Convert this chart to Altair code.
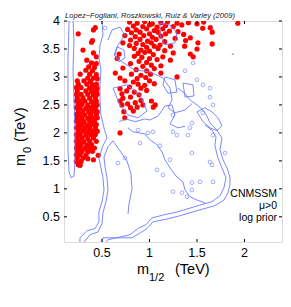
import altair as alt
import pandas as pd

# ---------------- data (TeV) ----------------
x_ticks = [0.5, 1.0, 1.5, 2.0]
y_ticks = [0.5, 1.0, 1.5, 2.0, 2.5, 3.0, 3.5, 4.0]

left_cluster = [
    (0.25, 3.77), (0.41, 3.84), (0.43, 3.88), (0.39, 3.62), (0.40, 3.65), (0.30, 3.48),
    (0.41, 3.43), (0.44, 3.36), (0.34, 3.30), (0.39, 3.25), (0.44, 3.24), (0.36, 3.18),
    (0.42, 3.17), (0.33, 3.12), (0.40, 3.11), (0.27, 3.05), (0.37, 3.05), (0.44, 3.04),
    (0.35, 2.98), (0.41, 2.98), (0.45, 2.97), (0.24, 2.93), (0.31, 2.93), (0.38, 2.92),
    (0.25, 2.87), (0.34, 2.87), (0.40, 2.86), (0.44, 2.87), (0.23, 2.81), (0.28, 2.81),
    (0.37, 2.80), (0.42, 2.81), (0.45, 2.80), (0.24, 2.75), (0.33, 2.75), (0.39, 2.74),
    (0.44, 2.75), (0.23, 2.69), (0.28, 2.69), (0.35, 2.69), (0.41, 2.68), (0.45, 2.69),
    (0.24, 2.63), (0.30, 2.63), (0.37, 2.62), (0.43, 2.63), (0.23, 2.57), (0.27, 2.57),
    (0.32, 2.57), (0.39, 2.56), (0.44, 2.57), (0.25, 2.51), (0.29, 2.51), (0.35, 2.50),
    (0.41, 2.51), (0.45, 2.50), (0.23, 2.45), (0.27, 2.45), (0.33, 2.44), (0.38, 2.45),
    (0.43, 2.45), (0.25, 2.39), (0.30, 2.39), (0.36, 2.38), (0.41, 2.39), (0.45, 2.38),
    (0.23, 2.33), (0.27, 2.33), (0.32, 2.32), (0.38, 2.33), (0.44, 2.33), (0.24, 2.27),
    (0.29, 2.27), (0.35, 2.26), (0.40, 2.27), (0.45, 2.27), (0.23, 2.21), (0.26, 2.21),
    (0.31, 2.20), (0.37, 2.21), (0.42, 2.21), (0.25, 2.15), (0.29, 2.15), (0.34, 2.14),
    (0.39, 2.15), (0.44, 2.15), (0.23, 2.09), (0.27, 2.09), (0.32, 2.08), (0.37, 2.09),
    (0.43, 2.09), (0.25, 2.03), (0.30, 2.03), (0.35, 2.02), (0.40, 2.03), (0.45, 2.03),
    (0.23, 1.97), (0.27, 1.97), (0.33, 1.96), (0.38, 1.97), (0.43, 1.97), (0.24, 1.91),
    (0.29, 1.91), (0.35, 1.90), (0.41, 1.91), (0.23, 1.85), (0.26, 1.85), (0.31, 1.84),
    (0.37, 1.85), (0.44, 1.85), (0.24, 1.79), (0.28, 1.79), (0.34, 1.78), (0.39, 1.79),
    (0.23, 1.73), (0.27, 1.73), (0.32, 1.72), (0.37, 1.73), (0.42, 1.73), (0.24, 1.67),
    (0.29, 1.67), (0.35, 1.66), (0.40, 1.67), (0.46, 1.60), (0.23, 1.61), (0.27, 1.61),
    (0.33, 1.60), (0.24, 1.55), (0.30, 1.55), (0.35, 1.54), (0.41, 1.52), (0.23, 1.49),
    (0.28, 1.49), (0.25, 1.43), (0.27, 1.42), (0.69, 2.00),
]

upper_cluster = [
    (0.79, 3.98), (0.87, 3.96), (0.95, 3.99), (1.03, 3.95), (1.12, 3.97), (1.19, 3.99),
    (1.29, 3.96), (1.41, 3.97), (1.50, 3.95), (1.57, 3.98), (1.93, 3.96),
    (0.83, 3.91), (0.93, 3.90), (1.00, 3.93), (1.08, 3.89), (1.17, 3.92), (1.25, 3.90),
    (1.34, 3.93), (0.77, 3.85), (0.86, 3.84), (0.97, 3.86), (1.05, 3.83), (1.14, 3.86),
    (1.21, 3.82), (1.56, 3.87), (1.64, 3.88), (0.81, 3.79), (0.90, 3.80), (1.00, 3.77),
    (1.09, 3.80), (1.17, 3.77), (1.30, 3.81), (0.74, 3.74), (0.85, 3.72), (0.94, 3.74),
    (1.03, 3.71), (1.12, 3.73), (1.36, 3.76), (1.66, 3.80), (0.80, 3.66), (0.90, 3.67),
    (0.98, 3.64), (1.07, 3.67), (1.16, 3.63), (1.27, 3.69), (1.43, 3.70), (0.86, 3.60),
    (0.93, 3.58), (1.02, 3.61), (1.11, 3.57), (1.38, 3.65), (0.72, 3.61), (0.79, 3.56),
    (0.97, 3.53), (1.05, 3.55), (1.51, 3.61), (1.66, 3.59), (0.84, 3.51), (0.91, 3.48),
    (1.00, 3.46), (1.09, 3.51), (1.22, 3.55), (1.37, 3.55), (0.88, 3.42), (0.95, 3.44),
    (1.04, 3.40), (1.16, 3.47), (1.50, 3.50), (0.68, 3.41), (0.84, 3.37), (0.92, 3.35),
    (1.00, 3.33), (1.25, 3.43), (1.43, 3.41), (1.46, 3.36), (0.66, 3.33), (0.89, 3.28),
    (0.97, 3.26), (1.08, 3.31), (1.22, 3.30), (1.14, 3.36), (0.80, 3.24), (0.93, 3.19),
    (1.02, 3.21), (1.12, 3.20), (0.72, 3.16), (0.86, 3.13), (0.97, 3.11), (1.05, 3.15),
    (0.64, 3.07), (0.81, 3.05), (0.91, 3.03), (1.01, 3.05), (1.12, 3.07), (0.87, 2.97),
    (0.96, 2.99), (1.29, 3.00), (0.69, 2.98), (0.74, 2.93), (0.83, 2.91), (1.00, 2.93),
    (0.88, 2.87), (0.95, 2.85), (1.05, 2.88), (0.79, 2.82), (0.91, 2.80), (0.69, 2.79),
    (0.76, 2.75), (0.84, 2.73), (0.97, 2.76), (0.71, 2.70), (0.89, 2.68), (0.80, 2.64),
    (0.72, 2.62), (0.69, 2.57), (0.91, 2.58), (1.02, 2.57), (0.77, 2.52), (0.85, 2.54),
    (0.93, 2.50), (0.71, 2.50), (1.06, 2.50), (0.80, 2.45), (0.87, 2.46), (1.04, 2.46),
    (0.73, 2.38), (0.83, 2.39), (0.74, 2.27),
]

c_left_loop = [(0.153, 4.0), (0.142, 3.30), (0.142, 2.41), (0.142, 1.70), (0.153, 1.30),
               (0.174, 1.20), (0.205, 1.23), (0.216, 1.52), (0.216, 2.05), (0.205, 2.59),
               (0.195, 3.125), (0.205, 3.66), (0.195, 4.0)]
c_peninsula_a = [(0.268, 0.05), (0.268, 0.125), (0.342, 0.25), (0.426, 0.29), (0.468, 0.41),
                 (0.468, 0.59), (0.50, 0.77), (0.521, 0.98), (0.51, 1.20), (0.489, 1.375),
                 (0.468, 1.55), (0.51, 1.77), (0.553, 1.91), (0.521, 2.09), (0.489, 2.32),
                 (0.479, 2.59), (0.479, 2.86), (0.489, 3.125), (0.468, 3.34), (0.479, 3.57),
                 (0.51, 3.75), (0.50, 4.0)]
c_peninsula_b = [(0.310, 0.05), (0.374, 0.18), (0.458, 0.23), (0.50, 0.375), (0.51, 0.57),
                 (0.542, 0.77), (0.563, 0.98), (0.553, 1.20), (0.532, 1.39), (0.521, 1.57),
                 (0.563, 1.75), (0.616, 1.86), (0.689, 1.68), (0.763, 1.50), (0.805, 1.27),
                 (0.816, 1.0), (0.784, 0.73), (0.774, 0.55)]
c_outer_r = [(0.50, 0.05), (0.51, 0.125), (0.816, 0.125), (0.90, 0.21), (0.974, 0.29),
             (1.037, 0.41), (1.184, 0.46), (1.321, 0.52), (1.532, 0.625), (1.689, 0.70),
             (1.784, 0.80), (1.826, 0.93), (1.847, 1.07), (1.847, 1.21), (1.816, 1.375),
             (1.774, 1.52), (1.742, 1.70), (1.763, 1.91), (1.71, 2.05), (1.637, 2.18),
             (1.605, 2.30), (1.563, 2.41), (1.50, 2.50), (1.426, 2.59), (1.374, 2.70),
             (1.30, 2.80)]
c_inner_r = [(0.542, 0.05), (0.563, 0.09), (0.795, 0.18), (0.879, 0.29), (0.963, 0.36),
             (1.026, 0.48), (1.163, 0.54), (1.30, 0.59), (1.511, 0.70), (1.658, 0.77),
             (1.742, 0.875), (1.784, 1.02), (1.805, 1.20), (1.763, 1.375), (1.721, 1.55),
             (1.689, 1.77), (1.70, 1.93), (1.658, 2.05), (1.584, 2.14)]
c_mid = [(0.774, 2.09), (0.826, 2.02), (0.953, 1.98), (1.005, 1.875), (1.079, 1.79),
         (1.132, 1.66), (1.163, 1.52), (1.216, 1.375), (1.289, 1.21), (1.353, 1.12),
         (1.374, 0.98), (1.426, 0.86), (1.50, 0.80), (1.584, 0.75)]
c_mid2 = [(0.68, 2.20), (0.75, 2.25), (0.85, 2.20), (0.95, 2.25), (1.005, 2.23), (1.089, 2.30),
          (1.163, 2.48), (1.237, 2.50), (1.268, 2.32), (1.216, 2.16), (1.30, 2.09), (1.374, 2.12)]
c_loop_a = [(0.616, 2.80), (0.763, 2.86), (0.90, 2.68), (0.974, 2.39), (0.879, 2.27),
            (0.774, 2.32), (0.689, 2.50), (0.616, 2.80)]
c_upper = [(0.563, 3.66), (0.605, 3.84), (0.689, 3.89), (0.742, 3.75), (0.668, 3.57),
           (0.626, 3.39), (0.71, 3.27), (0.847, 3.125), (1.005, 3.09), (1.142, 2.98),
           (1.216, 2.80), (1.237, 2.59), (1.195, 2.45), (1.268, 2.36), (1.374, 2.41),
           (1.447, 2.52)]
c_loop_b = [(1.50, 2.375), (1.584, 2.45), (1.658, 2.375), (1.721, 2.27), (1.763, 2.125),
            (1.71, 2.04), (1.637, 2.09), (1.563, 2.20), (1.50, 2.375)]
c_loop_c = [(1.11, 3.96), (1.216, 3.93), (1.289, 3.79), (1.268, 3.61), (1.163, 3.57),
            (1.11, 3.75), (1.11, 3.96)]
c_loop_d = [(0.658, 3.54), (0.732, 3.48), (0.742, 3.34), (0.679, 3.27), (0.637, 3.39),
            (0.658, 3.54)]
c_loop_e = [(1.163, 3.0), (1.268, 2.95), (1.289, 2.73), (1.195, 2.71), (1.142, 2.86),
            (1.163, 3.0)]
c_loop_f = [(1.353, 2.89), (1.458, 2.86), (1.468, 2.66), (1.374, 2.64), (1.353, 2.89)]

small_loops = [
    (1.037, 2.02), (1.247, 2.02), (1.447, 2.18), (1.289, 1.96), (1.668, 1.96), (1.795, 1.64),
    (1.447, 1.64), (1.216, 1.52), (1.079, 1.34), (1.658, 1.43), (1.447, 1.11), (1.447, 0.98),
    (1.395, 0.86), (1.637, 2.80), (1.637, 2.64), (1.668, 2.50), (1.374, 3.11), (1.458, 3.25),
    (1.247, 2.32), (1.426, 2.09), (1.563, 2.86), (1.405, 1.96), (1.563, 2.36), (1.637, 1.48),
    (0.90, 1.82), (1.142, 1.25), (1.532, 1.125), (1.668, 1.125), (1.247, 0.95), (1.342, 0.93),
    (0.532, 3.875), (1.50, 2.95), (0.668, 1.46), (0.742, 1.55), (0.984, 2.0), (1.11, 1.77),
    (0.879, 2.05),
]
tiny_dots = [(1.879, 3.41)]

contours = {
    "a": c_left_loop, "b": c_peninsula_a, "c": c_peninsula_b, "d": c_outer_r,
    "e": c_inner_r, "f": c_mid, "g": c_mid2, "h": c_loop_a, "i": c_upper,
    "j": c_loop_b, "k": c_loop_c, "l": c_loop_d, "m": c_loop_e, "n": c_loop_f,
}

# ---------------- tables ----------------
pts = pd.DataFrame(left_cluster + upper_cluster, columns=["x", "y"])
rows = []
for g, path in contours.items():
    for i, (x, y) in enumerate(path):
        rows.append({"x": x, "y": y, "grp": g, "ord": i})
cont = pd.DataFrame(rows)
loops = pd.DataFrame(small_loops, columns=["x", "y"])
tiny = pd.DataFrame(tiny_dots, columns=["x", "y"])
xt = pd.DataFrame({"v": x_ticks})
yt = pd.DataFrame({"v": y_ticks})

W, H = 218, 221
BLUE = "#6b7cff"
FONT = "Liberation Sans"

xs = alt.Scale(domain=[0.1, 2.395], nice=False, zero=False)
ys = alt.Scale(domain=[0.05, 4.0], nice=False, zero=False)


def X(f):
    return alt.X(f, scale=xs, axis=None)


def Y(f):
    return alt.Y(f, scale=ys, axis=None)


dots = alt.Chart(pts).mark_circle(color="#ff0000", opacity=1, size=27, clip=True).encode(
    x=X("x:Q"), y=Y("y:Q"))

lines = alt.Chart(cont).mark_line(color=BLUE, strokeWidth=0.9, clip=True).encode(
    x=X("x:Q"), y=Y("y:Q"), detail="grp:N", order="ord:Q")

loop_marks = alt.Chart(loops).mark_point(shape="circle", filled=False, color=BLUE,
                                         strokeWidth=0.9, size=14, clip=True).encode(
    x=X("x:Q"), y=Y("y:Q"))

tiny_marks = alt.Chart(tiny).mark_circle(color=BLUE, size=3, opacity=1, clip=True).encode(
    x=X("x:Q"), y=Y("y:Q"))

# inward tick marks on all four sides
tl = alt.Chart(yt).mark_rule(color="black", strokeWidth=1).encode(
    y=Y("v:Q"), x=alt.value(0), x2=alt.value(3))
tr = alt.Chart(yt).mark_rule(color="black", strokeWidth=1).encode(
    y=Y("v:Q"), x=alt.value(W - 3), x2=alt.value(W))
tb = alt.Chart(xt).mark_rule(color="black", strokeWidth=1).encode(
    x=X("v:Q"), y=alt.value(H - 3), y2=alt.value(H))
tt = alt.Chart(xt).mark_rule(color="black", strokeWidth=1).encode(
    x=X("v:Q"), y=alt.value(0), y2=alt.value(3))

# tick labels
ylab = alt.Chart(yt).mark_text(font=FONT, fontSize=12.5, color="black", align="right",
                               baseline="middle").encode(
    y=Y("v:Q"), x=alt.value(-4), text=alt.Text("v:Q", format="~g"))
xlab = alt.Chart(xt).mark_text(font=FONT, fontSize=12.5, color="black", align="center",
                               baseline="top").encode(
    x=X("v:Q"), y=alt.value(H + 5), text=alt.Text("v:Q", format="~g"))


def txt(s, x, y, size, color="black", **kw):
    return alt.Chart(pd.DataFrame({"t": [s]})).mark_text(
        font=FONT, fontSize=size, color=color, **kw
    ).encode(text="t:N", x=alt.value(x), y=alt.value(y))


texts = [
    txt("Lopez\u2212Fogliani, Roszkowski, Ruiz & Varley (2009)", 1, -3, 7.6,
        color="#222222", fontStyle="italic", align="left", baseline="alphabetic"),
    txt("CNMSSM", 213, 176, 10.5, align="right", baseline="alphabetic"),
    txt("\u03bc>0", 213, 188, 10.5, align="right", baseline="alphabetic"),
    txt("log prior", 213, 200, 10.5, align="right", baseline="alphabetic"),
    # x title: m_{1/2} (TeV)
    txt("m", 73, 253, 14.5, align="left", baseline="alphabetic"),
    txt("1/2", 85, 260, 11, align="left", baseline="alphabetic"),
    txt("(TeV)", 111, 253, 14.5, align="left", baseline="alphabetic"),
    # y title: m_0 (TeV), rotated
    txt("m", -39, 145, 14.5, align="left", baseline="alphabetic", angle=270),
    txt("0", -33, 132, 11, align="left", baseline="alphabetic", angle=270),
    txt("(TeV)", -39, 121, 14.5, align="left", baseline="alphabetic", angle=270),
]

chart = alt.layer(dots, lines, loop_marks, tiny_marks, tl, tr, tb, tt, ylab, xlab,
                  *texts).properties(
    width=W, height=H,
    autosize=alt.AutoSizeParams(type="none"),
    padding={"left": 56, "top": 13, "right": 1, "bottom": 40},
).configure_view(stroke="black", strokeWidth=1).configure(background="white")

chart.save("out.html", embed_options={"renderer": "svg", "actions": False})
